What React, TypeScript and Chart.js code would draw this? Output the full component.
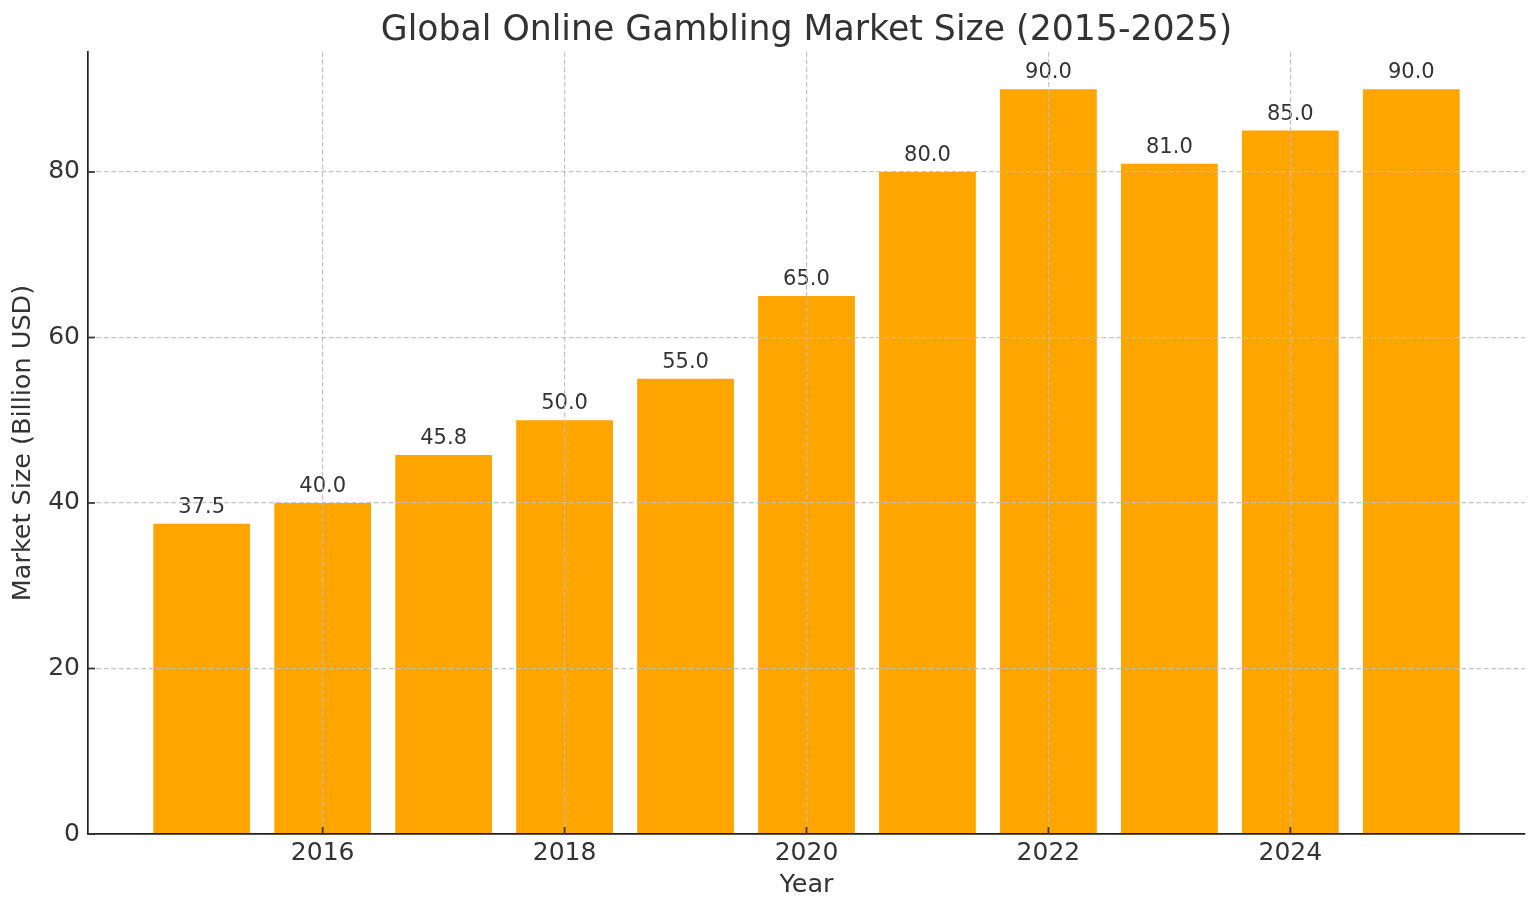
import { useEffect, useRef } from "react";
import { Chart, registerables } from "chart.js";

Chart.register(...registerables);

const years = [2015, 2016, 2017, 2018, 2019, 2020, 2021, 2022, 2023, 2024, 2025];
const marketSize = [37.5, 40.0, 45.8, 50.0, 55.0, 65.0, 80.0, 90.0, 81.0, 85.0, 90.0];
const xTickYears = [2016, 2018, 2020, 2022, 2024];
const yTickValues = [0, 20, 40, 60, 80];
const chartTitle = "Global Online Gambling Market Size (2015-2025)";

const FONT = "'DejaVu Sans', sans-serif";
const TEXT = "#333333";

// value labels above each bar
const barLabels = {
  id: "barLabels",
  afterDatasetsDraw(chart: any) {
    const ctx = chart.ctx;
    const meta = chart.getDatasetMeta(0);
    ctx.save();
    ctx.font = `21px ${FONT}`;
    ctx.fillStyle = TEXT;
    ctx.textAlign = "center";
    ctx.textBaseline = "alphabetic";
    meta.data.forEach((bar: any, i: number) => {
      ctx.fillText(marketSize[i].toFixed(1), bar.x, bar.y - 11);
    });
    ctx.restore();
  },
};

// title centred over the plot area (matplotlib style), plus inward ticks
const axesDecor = {
  id: "axesDecor",
  afterDraw(chart: any) {
    const { ctx, chartArea, scales } = chart;
    ctx.save();
    ctx.font = `34.7px ${FONT}`;
    ctx.fillStyle = TEXT;
    ctx.textAlign = "center";
    ctx.textBaseline = "alphabetic";
    ctx.fillText(chartTitle, (chartArea.left + chartArea.right) / 2, 39.5);

    ctx.strokeStyle = TEXT;
    ctx.lineWidth = 1.7;
    xTickYears.forEach((v) => {
      const x = scales.x.getPixelForValue(v);
      ctx.beginPath();
      ctx.moveTo(x, chartArea.bottom);
      ctx.lineTo(x, chartArea.bottom - 7);
      ctx.stroke();
    });
    yTickValues.forEach((v) => {
      const y = scales.y.getPixelForValue(v);
      ctx.beginPath();
      ctx.moveTo(chartArea.left, y);
      ctx.lineTo(chartArea.left + 7, y);
      ctx.stroke();
    });
    ctx.restore();
  },
};

export default function App() {
  const chartRef = useRef<HTMLCanvasElement>(null);
  const chartInstanceRef = useRef<Chart | null>(null);

  useEffect(() => {
    if (!chartRef.current) return;
    if (chartInstanceRef.current) {
      chartInstanceRef.current.destroy();
    }
    const ctx = chartRef.current.getContext("2d");
    if (!ctx) return;

    chartInstanceRef.current = new Chart(ctx, {
      type: "bar",
      data: {
        datasets: [
          {
            data: years.map((y, i) => ({ x: y, y: marketSize[i] })),
            backgroundColor: "#FFA500",
            borderWidth: 0,
            barPercentage: 0.8,
            categoryPercentage: 1,
          },
        ],
      },
      options: {
        animation: false,
        responsive: true,
        maintainAspectRatio: false,
        layout: { padding: { left: 0, right: 11, top: 52, bottom: 0 } },
        plugins: {
          legend: { display: false },
          tooltip: { enabled: false },
          title: { display: false },
        },
        scales: {
          x: {
            type: "linear",
            min: 2014.06,
            max: 2025.94,
            offset: false,
            afterBuildTicks: (scale: any) => {
              scale.ticks = xTickYears.map((v) => ({ value: v }));
            },
            afterFit: (scale: any) => {
              scale.height = 80;
            },
            ticks: {
              color: TEXT,
              font: { family: FONT, size: 25 },
              padding: 4,
              maxRotation: 0,
              callback: (v: any) => String(v),
            },
            grid: {
              offset: false,
              z: 1,
              color: "rgba(190,190,190,0.9)",
              lineWidth: 1.2,
              drawTicks: false,
            },
            border: { display: true, color: "#222222", width: 1.7, dash: [5, 2.5], z: 2 },
            title: {
              display: true,
              text: "Year",
              color: TEXT,
              font: { family: FONT, size: 25.5 },
              padding: { top: 0, bottom: 13 },
            },
          },
          y: {
            type: "linear",
            min: 0,
            max: 94.5,
            afterBuildTicks: (scale: any) => {
              scale.ticks = yTickValues.map((v) => ({ value: v }));
            },
            afterFit: (scale: any) => {
              scale.width = 88;
            },
            ticks: {
              color: TEXT,
              font: { family: FONT, size: 25 },
              padding: 8,
            },
            grid: {
              z: 1,
              color: "rgba(190,190,190,0.9)",
              lineWidth: 1.2,
              drawTicks: false,
            },
            border: { display: true, color: "#222222", width: 1.7, dash: [5, 2.5], z: 2 },
            title: {
              display: true,
              text: "Market Size (Billion USD)",
              color: TEXT,
              font: { family: FONT, size: 25.5 },
              padding: { top: 8, bottom: 0 },
            },
          },
        },
      },
      plugins: [barLabels, axesDecor],
    } as any);

    return () => {
      if (chartInstanceRef.current) {
        chartInstanceRef.current.destroy();
        chartInstanceRef.current = null;
      }
    };
  }, []);

  return (
    <div style={{ position: "fixed", left: 0, top: 0, width: 1536, height: 914, background: "#ffffff" }}>
      <canvas ref={chartRef}></canvas>
    </div>
  );
}
